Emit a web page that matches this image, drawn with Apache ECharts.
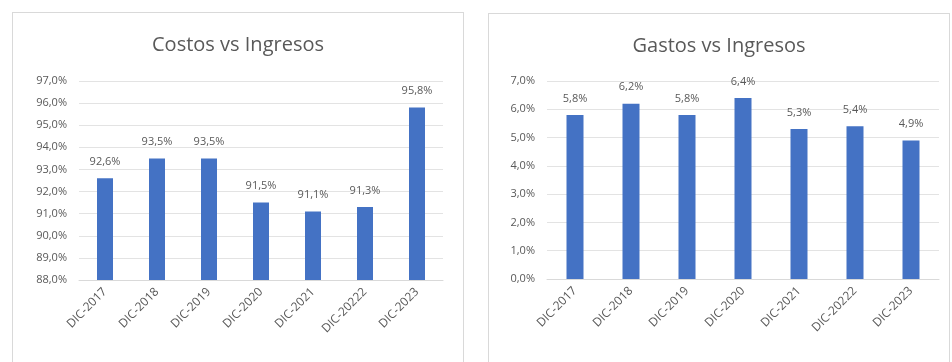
<!DOCTYPE html>
<html>
<head>
<meta charset="utf-8">
<script src="https://cdn.jsdelivr.net/npm/echarts@6/dist/echarts.min.js"></script>
<style>
  body { margin: 0; background: #fff; width: 952px; height: 362px; overflow: hidden; position: relative; }
  .box { position: absolute; border: 1px solid #d9d9d9; background: #fff; }
  #costos { left: 12px; top: 12px; width: 450px; height: 360px; }
  #gastos { left: 488px; top: 13px; width: 460px; height: 360px; }
</style>
</head>
<body>
<div id="costos" class="box"></div>
<div id="gastos" class="box"></div>
<script>
// periodos (el 2022 viene asi en el original)
const categorias = ['DIC-2017', 'DIC-2018', 'DIC-2019', 'DIC-2020', 'DIC-2021', 'DIC-20222', 'DIC-2023'];
const costosVsIngresos = [92.6, 93.5, 93.5, 91.5, 91.1, 91.3, 95.8];
const gastosVsIngresos = [5.8, 6.2, 5.8, 6.4, 5.3, 5.4, 4.9];

const fmt = v => v.toFixed(1).replace('.', ',') + '%';
const fontFam = '"Open Sans", "Liberation Sans", sans-serif';

function armar(titulo, datos, yMin, yMax, grid, barW) {
  return {
    animation: false,
    title: {
      text: titulo,
      left: 'center',
      top: 17,
      textStyle: { color: '#595959', fontSize: 20, fontWeight: 'normal', fontFamily: fontFam }
    },
    grid: grid,
    xAxis: {
      type: 'category',
      data: categorias,
      axisLine: { lineStyle: { color: '#d9d9d9' } },
      axisTick: { show: false },
      axisLabel: { rotate: 45, color: '#595959', fontSize: 12, fontFamily: fontFam, margin: 10 }
    },
    yAxis: {
      type: 'value',
      min: yMin,
      max: yMax,
      interval: 1,
      axisLine: { show: false },
      axisTick: { show: false },
      splitLine: { lineStyle: { color: '#e3e3e3' } },
      axisLabel: { color: '#595959', fontSize: 11, fontFamily: fontFam, formatter: v => fmt(v), margin: 12 }
    },
    series: [{
      type: 'bar',
      data: datos,
      barWidth: barW,
      itemStyle: { color: '#4472C4' },
      label: {
        show: true,
        position: 'top',
        distance: 11,
        color: '#595959',
        fontSize: 11,
        fontFamily: fontFam,
        formatter: p => fmt(p.value)
      }
    }]
  };
}

const c1 = echarts.init(document.getElementById('costos'));
c1.setOption(armar('Costos vs Ingresos', costosVsIngresos, 88, 97,
  { left: 66, top: 68, width: 364, height: 199 }, 16));

const c2 = echarts.init(document.getElementById('gastos'));
c2.setOption(armar('Gastos vs Ingresos', gastosVsIngresos, 0, 7,
  { left: 58, top: 67, width: 392, height: 198 }, 17));
</script>
</body>
</html>
